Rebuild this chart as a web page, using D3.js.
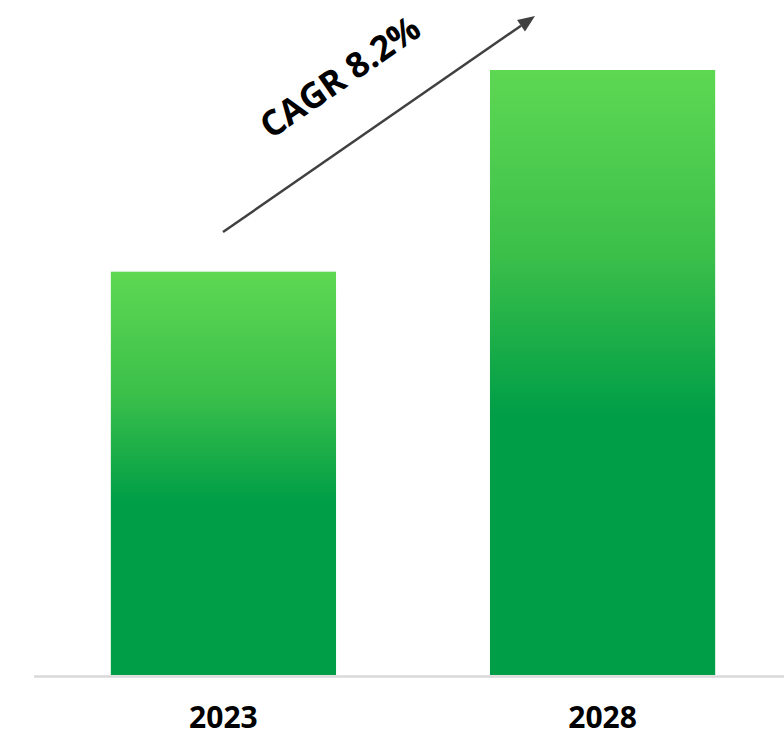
<!DOCTYPE html>
<html>
<head>
<meta charset="utf-8">
<script src="https://cdn.jsdelivr.net/npm/d3@7"></script>
<style>
  html, body { margin: 0; padding: 0; background: #fff; }
  svg { display: block; }
</style>
</head>
<body>
<svg id="chart" width="784" height="738"></svg>
<script>
const categories = ["2023", "2028"];
const values = [100, 150];
const cagrLabel = "CAGR 8.2%";

const svg = d3.select("#chart");

const x = d3.scaleBand().domain(categories).range([35, 791]).paddingInner(0.406).paddingOuter(0.2);
const y = d3.scaleLinear().domain([0, 150]).range([675, 70]);

const defs = svg.append("defs");
const grad = defs.append("linearGradient").attr("id", "barGrad")
  .attr("x1", 0).attr("y1", 0).attr("x2", 0).attr("y2", 1);
grad.append("stop").attr("offset", "0%").attr("stop-color", "#5ed853");
grad.append("stop").attr("offset", "30%").attr("stop-color", "#3cc04a");
grad.append("stop").attr("offset", "57%").attr("stop-color", "#009e47");
grad.append("stop").attr("offset", "100%").attr("stop-color", "#009e47");

svg.selectAll("rect.bar").data(categories).join("rect")
  .attr("class", "bar")
  .attr("x", d => x(d))
  .attr("width", x.bandwidth())
  .attr("y", (d, i) => y(values[i]))
  .attr("height", (d, i) => y(0) - y(values[i]))
  .attr("fill", "url(#barGrad)");

// baseline
svg.append("line")
  .attr("x1", 34).attr("x2", 784)
  .attr("y1", 676.5).attr("y2", 676.5)
  .attr("stroke", "#d9d9d9").attr("stroke-width", 2.5);

// axis labels
svg.selectAll("text.cat").data(categories).join("text")
  .attr("class", "cat")
  .attr("x", d => x(d) + x.bandwidth() / 2)
  .attr("y", 728)
  .attr("text-anchor", "middle")
  .attr("font-family", "'Open Sans', sans-serif")
  .attr("font-weight", "bold")
  .attr("font-size", 30)
  .attr("fill", "#000")
  .text(d => d);

// CAGR arrow
const ax1 = 223, ay1 = 232, ax2 = 535, ay2 = 16;
const ang = Math.atan2(ay2 - ay1, ax2 - ax1);
const headLen = 17, headW = 7;
const bx = ax2 - headLen * Math.cos(ang), by = ay2 - headLen * Math.sin(ang);
svg.append("line")
  .attr("x1", ax1).attr("y1", ay1).attr("x2", bx).attr("y2", by)
  .attr("stroke", "#404040").attr("stroke-width", 2.5);
const px = -Math.sin(ang), py = Math.cos(ang);
svg.append("path")
  .attr("d", `M${ax2},${ay2}L${bx + px * headW},${by + py * headW}L${bx - px * headW},${by - py * headW}Z`)
  .attr("fill", "#404040");

const deg = ang * 180 / Math.PI;
svg.append("text")
  .attr("transform", `translate(347,87) rotate(${deg})`)
  .attr("text-anchor", "middle")
  .attr("font-family", "'Open Sans', sans-serif")
  .attr("font-weight", "bold")
  .attr("font-size", 35)
  .attr("fill", "#000")
  .text(cagrLabel);
</script>
</body>
</html>
